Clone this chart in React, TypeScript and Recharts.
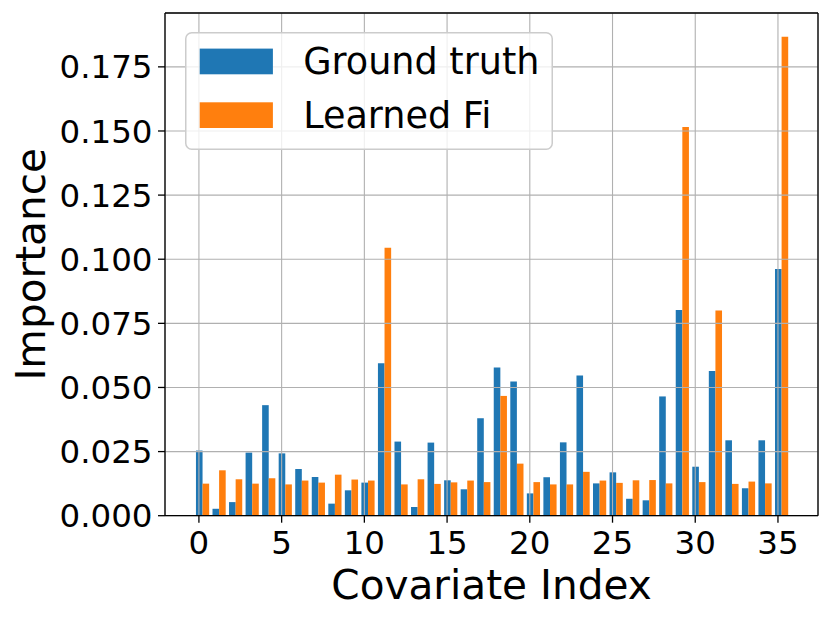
import React from "react"
import {
  BarChart,
  Bar,
  XAxis,
  YAxis,
  CartesianGrid,
  Legend,
} from "recharts"

const categories = [
  0, 1, 2, 3, 4, 5, 6, 7, 8, 9, 10, 11, 12, 13, 14, 15, 16, 17,
  18, 19, 20, 21, 22, 23, 24, 25, 26, 27, 28, 29, 30, 31, 32, 33, 34, 35,
]

const groundTruth = [
  0.0254, 0.0027, 0.0053, 0.0246, 0.0431, 0.0243, 0.0182, 0.0151, 0.0047,
  0.0099, 0.0129, 0.0594, 0.0289, 0.0034, 0.0285, 0.0138, 0.0103, 0.038,
  0.0578, 0.0523, 0.0087, 0.015, 0.0286, 0.0547, 0.0126, 0.0169, 0.0066,
  0.006, 0.0465, 0.0802, 0.0191, 0.0564, 0.0294, 0.0107, 0.0294, 0.0962,
]

const learnedFi = [
  0.0125, 0.0177, 0.0142, 0.0125, 0.0146, 0.0122, 0.0137, 0.0129, 0.016,
  0.0141, 0.0137, 0.1045, 0.0122, 0.0142, 0.0124, 0.013, 0.0137, 0.0131,
  0.0467, 0.0203, 0.0131, 0.0122, 0.0122, 0.0171, 0.0137, 0.0128, 0.0138,
  0.0139, 0.0126, 0.1516, 0.0131, 0.08, 0.0124, 0.0133, 0.0126, 0.1867,
]

const xTicks = [0, 5, 10, 15, 20, 25, 30, 35]
const yTicks = [0, 0.025, 0.05, 0.075, 0.1, 0.125, 0.15, 0.175]

const data = categories.map((idx, i) => ({
  idx,
  truth: groundTruth[i],
  learned: learnedFi[i],
}))

const font = "DejaVu Sans"
const BLUE = "#1f77b4"
const ORANGE = "#ff7f0e"

// visible x range; the bar axis is the same range moved by half a pair
const xDomain = [-2.05, 37.42]
const barDomain = [xDomain[0] - 0.2, xDomain[1] - 0.2]

const tickStyle = { fontFamily: font, fontSize: 32.5, fill: "#000" }
const spine = { stroke: "#000", strokeWidth: 1.3 }

const XTitle = (props: any) => {
  const vb = props.viewBox || { x: 165, width: 653 }
  return (
    <text
      x={vb.x + vb.width / 2}
      y={599}
      textAnchor="middle"
      fontFamily={font}
      fontSize={40.6}
      fill="#000"
    >
      Covariate Index
    </text>
  )
}

const YTitle = (props: any) => {
  const vb = props.viewBox || { y: 13, height: 503 }
  const cy = vb.y + vb.height / 2
  return (
    <text
      transform={`translate(45, ${cy}) rotate(-90)`}
      textAnchor="middle"
      fontFamily={font}
      fontSize={40.6}
      fill="#000"
    >
      Importance
    </text>
  )
}

const LegendBox = (props: any) => {
  const items = props.payload || []
  return (
    <svg width={368} height={118} style={{ display: "block" }}>
      <rect
        x={0.75}
        y={0.75}
        width={366.5}
        height={116.5}
        rx={6}
        fill="#fff"
        fillOpacity={0.8}
        stroke="#cccccc"
        strokeWidth={1.5}
      />
      {items.map((item: any, i: number) => (
        <g key={item.value}>
          <rect
            x={14.7}
            y={16.6 + i * 53.7}
            width={73.2}
            height={25.7}
            fill={item.color}
          />
          <text
            x={118.2}
            y={42.3 + i * 53.7}
            fontFamily={font}
            fontSize={36.6}
            fill="#000"
          >
            {item.value}
          </text>
        </g>
      ))}
    </svg>
  )
}

export default function App() {
  return (
    <div style={{ position: "absolute", left: 0, top: 0, fontFamily: font }}>
      <BarChart
        width={831}
        height={620}
        data={data}
        margin={{ top: 12, right: 12, left: 0, bottom: 0 }}
        barGap={0}
      >
        <XAxis
          xAxisId="bars"
          dataKey="idx"
          type="number"
          domain={barDomain}
          allowDataOverflow
          hide
        />
        <Bar
          xAxisId="bars"
          dataKey="truth"
          name="Ground truth"
          fill={BLUE}
          barSize={6.6}
          isAnimationActive={false}
        />
        <Bar
          xAxisId="bars"
          dataKey="learned"
          name="Learned Fi"
          fill={ORANGE}
          barSize={6.6}
          isAnimationActive={false}
        />
        <CartesianGrid stroke="#b0b0b0" strokeWidth={1.1} zIndex={500} />
        <XAxis
          dataKey="idx"
          type="number"
          domain={xDomain}
          allowDataOverflow
          ticks={xTicks}
          interval={0}
          height={104.3}
          tickSize={7}
          tickMargin={8.5}
          tick={tickStyle}
          axisLine={spine}
          tickLine={spine}
          label={<XTitle />}
        />
        <XAxis
          xAxisId="top"
          dataKey="idx"
          orientation="top"
          type="number"
          domain={xDomain}
          allowDataOverflow
          height={1}
          tick={false}
          tickLine={false}
          axisLine={spine}
        />
        <YAxis
          type="number"
          domain={[0, 0.196]}
          allowDataOverflow
          ticks={yTicks}
          interval={0}
          width={165}
          tickSize={7}
          tickMargin={5.5}
          tick={tickStyle}
          tickFormatter={(v: number) => v.toFixed(3)}
          axisLine={spine}
          tickLine={spine}
          label={<YTitle />}
        />
        <YAxis
          yAxisId="right"
          orientation="right"
          type="number"
          domain={[0, 0.196]}
          allowDataOverflow
          width={1}
          tick={false}
          tickLine={false}
          axisLine={spine}
        />
        <Legend
          layout="vertical"
          align="center"
          verticalAlign="middle"
          content={<LegendBox />}
          wrapperStyle={{ left: 185, top: 32, width: 368, height: 118 }}
        />
      </BarChart>
    </div>
  )
}
